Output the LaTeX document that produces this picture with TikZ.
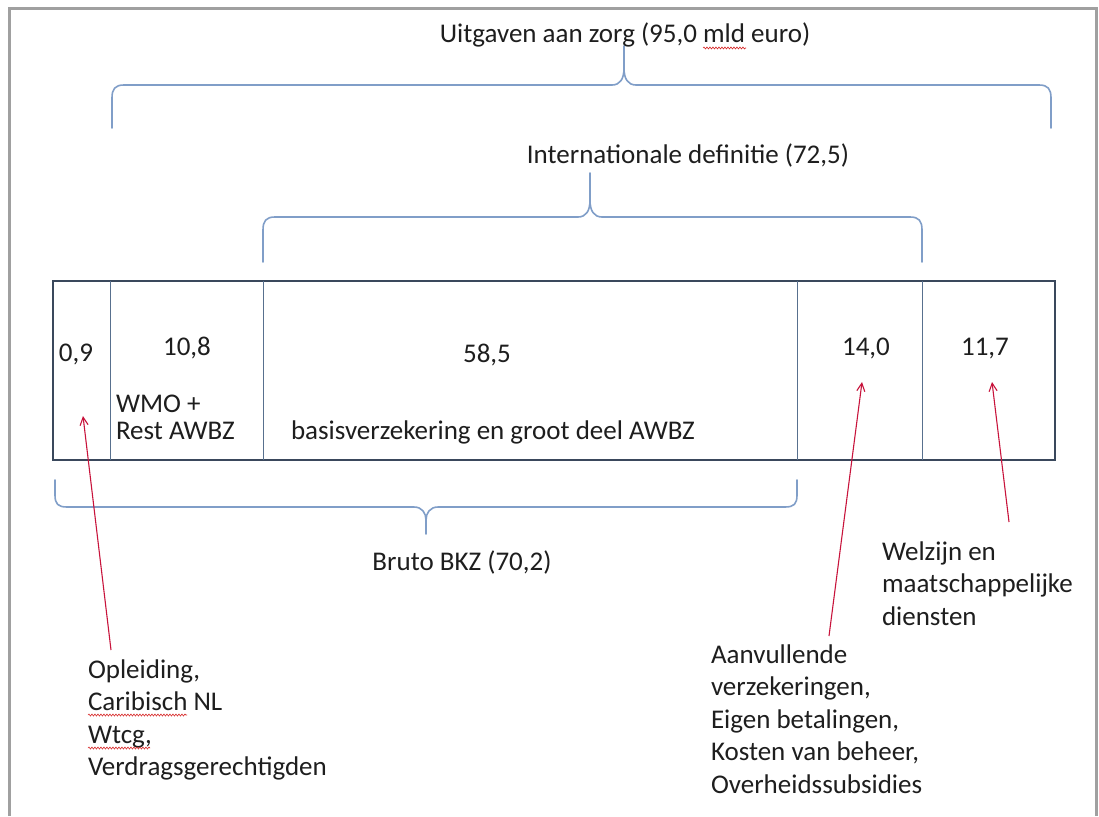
\documentclass[tikz,border=0pt]{standalone}
\usepackage{fontspec}
\setmainfont{Carlito}
\usetikzlibrary{arrows.meta,decorations.pathmorphing}
\definecolor{txt}{RGB}{30,30,30}
\definecolor{bracecol}{RGB}{128,158,200}
\definecolor{boxcol}{RGB}{58,72,92}
\definecolor{divcol}{RGB}{88,112,142}
\definecolor{arrowred}{RGB}{200,20,60}
\definecolor{framecol}{RGB}{160,160,160}
\definecolor{spellred}{RGB}{215,40,40}
\begin{document}
\begin{tikzpicture}[x=1pt,y=-1pt,
  every node/.style={inner sep=0pt,outer sep=0pt,text=txt,font=\fontsize{27}{32.5}\selectfont},
  lbl/.style={anchor=base},
  multi/.style={anchor=base west},
  bracestyle/.style={draw=bracecol,line width=1.6pt,line cap=round,line join=round},
  outerbox/.style={draw=boxcol,line width=2.6pt},
  divider/.style={draw=divcol,line width=1pt},
  pointer/.style={draw=arrowred,line width=1.1pt,-{Straight Barb[length=8pt,width=8pt,line width=1.1pt]}},
  spell/.style={draw=spellred,line width=0.6pt,decorate,decoration={snake,amplitude=1pt,segment length=3pt}},
  framestyle/.style={draw=framecol,line width=3pt}]
\useasboundingbox (0,0) rectangle (1099,816);
\fill[white] (0,0) rectangle (1099,816);
% frame
\draw[framestyle] (9,816) -- (9,9) -- (1096,9) -- (1096,816);

% top brace
\draw[bracestyle] (112,128) -- (112,98) .. controls (112,89) and (115,85) .. (124,85) -- (612,85) .. controls (620,85) and (624,79) .. (624,68) -- (624,46);
\draw[bracestyle] (624,68) .. controls (624,79) and (628,85) .. (636,85) -- (1039,85) .. controls (1048,85) and (1051,89) .. (1051,98) -- (1051,128);
\node[lbl] (title) at (625,42) {Uitgaven aan zorg (95,0 mld euro)};

% middle brace
\draw[bracestyle] (263,262) -- (263,230) .. controls (263,221) and (266,217) .. (275,217) -- (578,217) .. controls (586,217) and (590,211) .. (590,200) -- (590,173);
\draw[bracestyle] (590,200) .. controls (590,211) and (594,217) .. (602,217) -- (910,217) .. controls (919,217) and (922,221) .. (922,230) -- (922,262);
\node[lbl] (intl) at (688,163) {Internationale definitie (72,5)};

% box
\coordinate (bl) at (53,460);
\coordinate (tr) at (1055,281);
\draw[outerbox] (bl) rectangle (tr);
\foreach \x in {110,263,797,922} \draw[divider] (\x,281) -- (\x,460);

\node[lbl] (v09) at (76,361) {0,9};
\node[lbl] (v108) at (187,355) {10,8};
\node[multi] (wmo) at (116,412) {\begin{tabular}[t]{@{}l@{}}WMO +\\[-5.5pt]Rest AWBZ\end{tabular}};
\node[lbl] (v585) at (487,362) {58,5};
\node[multi] (basis) at (291,439) {basisverzekering en groot deel AWBZ};
\node[lbl] (v140) at (866,355) {14,0};
\node[lbl] (v117) at (985,355) {11,7};

% bottom brace
\draw[bracestyle] (55,480) -- (55,495) .. controls (55,504) and (58,507) .. (67,507) -- (414,507) .. controls (422,507) and (426,513) .. (426,520) -- (426,534);
\draw[bracestyle] (426,520) .. controls (426,513) and (430,507) .. (438,507) -- (785,507) .. controls (794,507) and (797,504) .. (797,495) -- (797,480);
\node[lbl] (bruto) at (462,570) {Bruto BKZ (70,2)};

% annotations
\node[multi] (opl) at (88,678) {\begin{tabular}[t]{@{}l@{}}Opleiding,\\Caribisch NL\\Wtcg,\\Verdragsgerechtigden\end{tabular}};
\node[multi] (welz) at (882,560) {\begin{tabular}[t]{@{}l@{}}Welzijn en\\maatschappelijke\\diensten\end{tabular}};
\node[multi] (aanv) at (711,663) {\begin{tabular}[t]{@{}l@{}}Aanvullende\\verzekeringen,\\Eigen betalingen,\\Kosten van beheer,\\Overheidssubsidies\end{tabular}};

% spell-check squiggles
\draw[spell] (703,48) -- (746,48);
\draw[spell] (88,715) -- (187,715);
\draw[spell] (88,748) -- (150,748);

% arrows
\coordinate (s1) at (111,650);
\coordinate (e1) at (83,416);
\coordinate (s2) at (829,636);
\coordinate (e2) at (862,382);
\coordinate (s3) at (1009,522);
\coordinate (e3) at (992,382);
\draw[pointer] (s1) -- (e1);
\draw[pointer] (s2) -- (e2);
\draw[pointer] (s3) -- (e3);
\end{tikzpicture}
\end{document}
